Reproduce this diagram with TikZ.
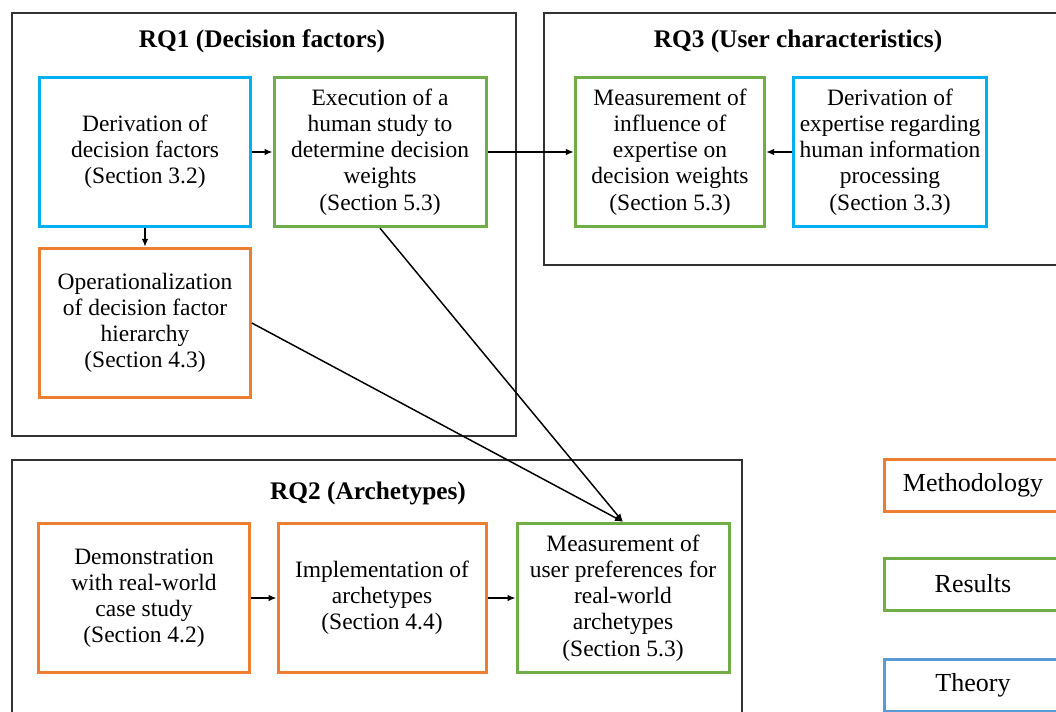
\documentclass[tikz,border=0pt]{standalone}
\usepackage{fontspec}
\setmainfont{Liberation Serif}
\usetikzlibrary{arrows.meta}

\definecolor{theoryblue}{RGB}{0,176,240}
\definecolor{resultgreen}{RGB}{112,173,71}
\definecolor{methorange}{RGB}{237,125,49}
\definecolor{legendblue}{RGB}{91,155,213}
\definecolor{groupgray}{RGB}{50,50,50}

\tikzset{
  box/.style={draw, line width=2.25pt, align=center, minimum height=112pt,
    font=\fontsize{17.6}{19.6}\selectfont, inner sep=1pt},
  theory/.style={box, draw=theoryblue},
  result/.style={box, draw=resultgreen},
  method/.style={box, draw=methorange},
  group/.style={draw=groupgray, line width=0.9pt},
  grouptitle/.style={font=\fontsize{19}{21}\selectfont\bfseries},
  legendbox/.style={draw, line width=2.25pt, minimum width=133pt, minimum height=39pt,
    font=\fontsize{19.5}{21}\selectfont},
}

\begin{document}
\begin{tikzpicture}[x=0.75pt, y=-0.75pt, >={Latex[length=6pt,width=5pt]}]
    \useasboundingbox (0,0) rectangle (1056,711);
    \clip (0,0) rectangle (1056,711);

    % Draw RQ1
    \draw[group] (12,13) rectangle (516,436);
    \node[grouptitle] (t1) at (262,41) {RQ1 (Decision factors)};
    \node[theory, minimum width=158pt] (der) at (145,152) {Derivation of\\decision factors\\(Section 3.2)};
    \node[result, minimum width=159pt] (exe) at (380,152) {Execution of a\\human study to\\determine decision\\weights\\(Section 5.3)};
    \node[method, minimum width=158pt] (ope) at (145,323) {Operationalization\\of decision factor\\hierarchy\\(Section 4.3)};

    % Draw RQ3
    \draw[group] (544,13) rectangle (1070,265);
    \node[grouptitle] (t3) at (798,41) {RQ3 (User characteristics)};
    \node[result, minimum width=142pt] (inf) at (670,152) {Measurement of\\influence of\\expertise on\\decision weights\\(Section 5.3)};
    \node[theory, minimum width=145pt] (exp) at (890,152) {Derivation of\\expertise regarding\\human information\\processing\\(Section 3.3)};

    % Draw RQ2
    \draw[group] (12,460) rectangle (742,725);
    \node[grouptitle] (t2) at (368,493) {RQ2 (Archetypes)};
    \node[method, minimum width=158pt] (dem) at (144,598) {Demonstration\\with real-world\\case study\\(Section 4.2)};
    \node[method, minimum width=156pt] (imp) at (382,598) {Implementation of\\archetypes\\(Section 4.4)};
    \node[result, minimum width=159pt] (pre) at (623,598) {Measurement of\\user preferences for\\real-world\\archetypes\\(Section 5.3)};

    % Connectors
    \draw[->, line width=1.1pt] (der) -- (exe);
    \draw[->, line width=1.1pt] (der) -- (ope);
    \draw[->, line width=1.1pt] (exe) -- (inf);
    \draw[->, line width=1.1pt] (exp) -- (inf);
    \draw[->, line width=1.1pt] (dem) -- (imp);
    \draw[->, line width=1.1pt] (imp) -- (pre);
    \draw[->, line width=1.1pt] (exe.south) -- (pre.north);
    \draw[->, line width=1.1pt] (ope.east) -- (pre.north);

    % Legend
    \node[legendbox, draw=methorange] (lmeth) at (973,485) {Methodology};
    \node[legendbox, draw=resultgreen] (lres) at (973,584) {Results};
    \node[legendbox, draw=legendblue] (ltheo) at (973,685) {Theory};
  \end{tikzpicture}
\end{document}
